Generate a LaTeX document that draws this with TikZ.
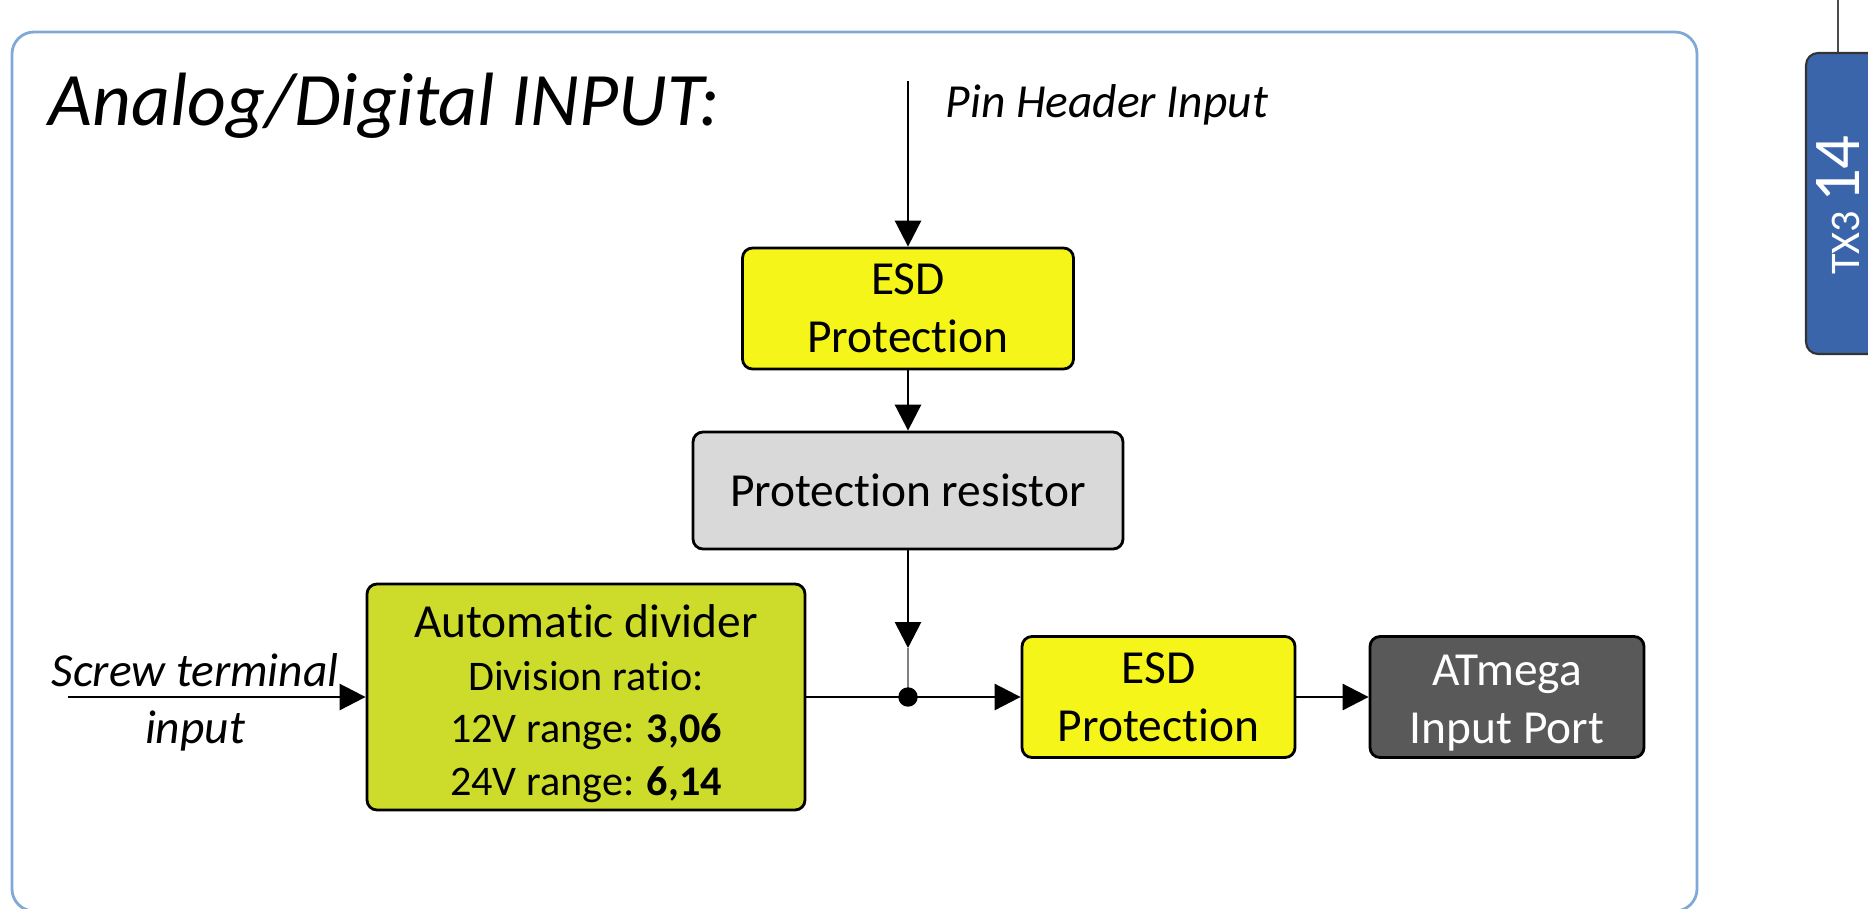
\documentclass[tikz,border=0pt]{standalone}
\usepackage{fontspec}
\setmainfont{Carlito}[Ligatures=NoCommon]
\usetikzlibrary{positioning}
\usetikzlibrary{arrows.meta}

\definecolor{esdyellow}{RGB}{245,245,25}
\definecolor{divgreen}{RGB}{205,220,42}
\definecolor{resgrey}{RGB}{217,217,217}
\definecolor{portgrey}{RGB}{89,89,89}
\definecolor{frameblue}{RGB}{128,170,214}
\definecolor{tabblue}{RGB}{58,101,170}

\begin{document}
\begin{tikzpicture}[
		blk/.style={draw=black, line width=0.8pt, rounded corners=0.1cm, align=center, inner sep=0pt, font=\fontsize{13.5}{16.5}\selectfont},
		sig/.style={line width=0.8pt, -{Triangle[length=0.26cm,width=0.26cm]}}
	]
		\useasboundingbox (0,0) rectangle (18.68,9.08);
		
		% frame and side tab
		\draw[frameblue, line width=0.8pt, rounded corners=0.22cm] (0.12,-0.03) rectangle (16.97,8.76);
		\draw[gray!60!black, line width=0.6pt] (18.38,9.08) -- (18.38,8.55);
		\filldraw[fill=tabblue, draw=black!80, line width=0.6pt, rounded corners=0.12cm] (18.06,5.54) rectangle (19.2,8.55);
		\node[rotate=90, anchor=base, inner sep=0pt, text=white] (tab) at (18.59,7.03) {{\fontsize{12}{14}\selectfont TX3} {\fontsize{19}{22}\selectfont 14}};
		
		\node[anchor=base west, inner sep=0pt, font=\fontsize{21.5}{26}\selectfont\itshape] (title) at (0.48,7.83) {Analog/Digital INPUT:};
		
		% blocks
		\node[blk, fill=esdyellow, minimum width=3.31cm, minimum height=1.21cm] (esdA) at (9.08,5.995) {ESD\\Protection};
		\node[blk, fill=resgrey, minimum width=4.30cm, minimum height=1.17cm] (res) at (9.08,4.175) {Protection resistor};
		\node[blk, fill=divgreen, minimum width=4.38cm, minimum height=2.26cm, font=\fontsize{12}{15}\selectfont] (div) at (5.86,2.11)
			{\rule{0pt}{0.46cm}{\fontsize{13.5}{15}\selectfont Automatic divider}\\Division ratio:\\12V range: \textbf{3,06}\\24V range: \textbf{6,14}};
		\node[blk, fill=esdyellow, minimum width=2.73cm, minimum height=1.21cm] (esdB) at (11.585,2.11) {ESD\\Protection};
		\node[blk, fill=portgrey, text=white, minimum width=2.74cm, minimum height=1.21cm] (port) at (15.07,2.11) {\rule{0pt}{0.42cm}ATmega\\Input Port};
		
		% inputs
		\coordinate (pin) at (9.08,8.27);
		\node[anchor=west, inner sep=0pt, font=\fontsize{13.5}{16.5}\selectfont\itshape] (pinlbl) at (9.45,8.03) {Pin Header Input};
		\coordinate (screw) at (0.68,2.11);
		\node[align=center, inner sep=0pt, font=\fontsize{13.5}{16.2}\selectfont\itshape] (screwlbl) at (1.95,2.06) {Screw terminal\\input};
		
		\coordinate (jtip) at (9.08,2.60);
		\coordinate (jn) at (9.08,2.11);
		
		\draw[sig] (pin) -- (esdA);
		\draw[sig] (esdA) -- (res);
		\draw[sig] (res) -- (jtip);
		\draw[gray, line width=0.6pt] (jtip) -- (jn);
		\draw[sig] (screw) -- (div);
		\draw[sig] (div) -- (esdB);
		\draw[sig] (esdB) -- (port);
		\filldraw (jn) circle (0.09);
	\end{tikzpicture}
\end{document}
